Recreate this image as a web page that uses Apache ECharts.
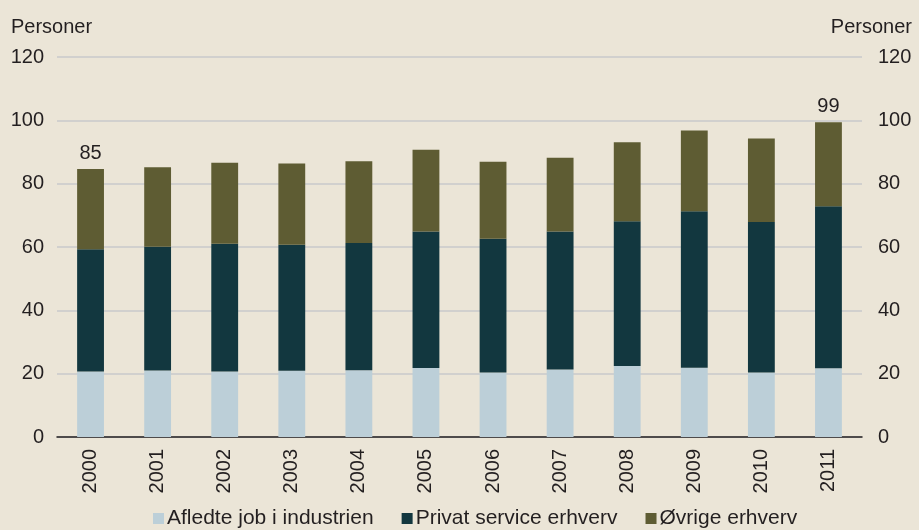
<!DOCTYPE html>
<html>
<head>
<meta charset="utf-8">
<script src="https://cdn.jsdelivr.net/npm/echarts@6/dist/echarts.min.js"></script>
<style>
html, body { margin: 0; padding: 0; background: #ebe5d7; }
#chart { width: 919px; height: 530px; }
</style>
</head>
<body>
<div id="chart"></div>
<script>
// data
var years = ['2000','2001','2002','2003','2004','2005','2006','2007','2008','2009','2010','2011'];
var afledte = [20.7, 21.0, 20.7, 20.9, 21.1, 21.8, 20.4, 21.3, 22.4, 21.9, 20.4, 21.7];
var privat = [38.6, 39.1, 40.3, 39.8, 40.2, 43.1, 42.2, 43.6, 45.7, 49.4, 47.5, 51.2];
var ovrige = [25.3, 25.1, 25.6, 25.7, 25.8, 25.8, 24.3, 23.3, 25.0, 25.5, 26.4, 26.5];
var labelYears = ['2000', '2011'];
var seriesNames = ['Afledte job i industrien', 'Privat service erhverv', 'Øvrige erhverv'];

function showChart() {
	var myChart = echarts.init(document.getElementById('chart'));
	var font = 'Liberation Sans, Arial, sans-serif';
	var yAxisBase = {
		type: 'value',
		min: 0,
		max: 120,
		interval: 20,
		name: 'Personer',
		nameGap: 20,
		axisLine: { show: false },
		axisTick: { show: false },
		splitLine: { lineStyle: { color: '#c9c9cb', width: 1.5 } },
		axisLabel: { fontSize: 20, color: '#231f20', fontFamily: font }
	};
	var option = {
		backgroundColor: '#ebe5d7',
		textStyle: { fontFamily: font },
		grid: { left: 57, right: 57, top: 57, bottom: 93, containLabel: false },
		legend: {
			data: seriesNames,
			bottom: -4,
			left: 148,
			itemWidth: 11,
			itemHeight: 11,
			itemGap: 28,
			icon: 'rect',
			textStyle: { fontSize: 21, color: '#231f20', padding: [0, 0, 0, -2] }
		},
		xAxis: {
			type: 'category',
			data: years,
			axisLine: { lineStyle: { color: '#231f20', width: 1.5 } },
			axisTick: { show: false },
			axisLabel: { rotate: 90, fontSize: 20, color: '#231f20', margin: 12, interval: 0 }
		},
		yAxis: [
			Object.assign({}, yAxisBase, {
				position: 'left',
				axisLabel: Object.assign({}, yAxisBase.axisLabel, { margin: 13 }),
				nameTextStyle: { fontSize: 20, color: '#231f20', align: 'left', padding: [0, 0, 0, -46] }
			}),
			Object.assign({}, yAxisBase, {
				position: 'right',
				splitLine: { show: false },
				axisLabel: Object.assign({}, yAxisBase.axisLabel, { margin: 16 }),
				nameTextStyle: { fontSize: 20, color: '#231f20', align: 'right', padding: [0, -50, 0, 0] }
			})
		],
		series: [
			{
				name: seriesNames[0],
				type: 'bar',
				stack: 'total',
				barWidth: '40%',
				itemStyle: { color: '#bccfd8' },
				data: afledte
			},
			{
				name: seriesNames[1],
				type: 'bar',
				stack: 'total',
				itemStyle: { color: '#12373f' },
				data: privat
			},
			{
				name: seriesNames[2],
				type: 'bar',
				stack: 'total',
				itemStyle: { color: '#5e5c33' },
				data: ovrige,
				label: {
					show: true,
					position: 'top',
					distance: 6,
					fontSize: 20,
					color: '#231f20',
					formatter: function (p) {
						if (labelYears.indexOf(p.name) < 0) return '';
						var i = p.dataIndex;
						return Math.round(afledte[i] + privat[i] + ovrige[i]);
					}
				}
			}
		]
	};
	myChart.setOption(option);
}
showChart();
</script>
</body>
</html>
